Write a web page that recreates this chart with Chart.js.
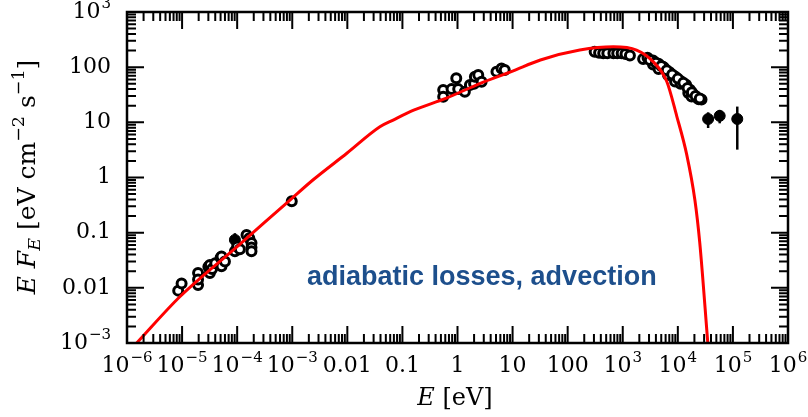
<!DOCTYPE html>
<html>
<head>
<meta charset="utf-8">
<script src="https://cdn.jsdelivr.net/npm/chart.js@4"></script>
<style>
  body { margin: 0; background: #fff; }
  canvas { display: block; }
</style>
</head>
<body>
<canvas id="sedChart" width="808" height="417"></canvas>
<script>
// model curve (red)
const curveE = [1.5e-6, 9.1e-6, 1e-4, 9.1e-4, 2.4e-3, 9.8e-3, 0.039, 0.068, 0.16, 0.63, 2.6, 10, 32, 166, 676, 1780, 3550, 6300, 9550, 1.45e4, 2.04e4, 2.5e4, 3.5e4];
const curveF = [1e-3, 6.9e-3, 0.056, 0.39, 0.91, 2.75, 8.3, 11, 16.6, 27.5, 51, 85, 135, 204, 234, 204, 126, 55, 13, 2.6, 0.39, 0.066, 1e-3];

// open circles (radio, IR, optical, X-ray)
const openE = [8.5e-6, 9.8e-6, 1.95e-5, 1.95e-5, 1.95e-5, 3.0e-5, 3.2e-5, 3.2e-5, 3.5e-5, 4.0e-5, 5.0e-5, 5.2e-5, 5.2e-5, 6.0e-5, 9.1e-5, 1.0e-4, 1.12e-4, 1.48e-4, 1.66e-4, 1.82e-4, 1.82e-4, 1.82e-4,
  9.8e-4,
  0.55, 0.55, 0.78, 0.95, 1.03, 1.36, 1.68, 2.0, 2.07, 2.38, 2.74, 5.1, 6.3, 7.2,
  309, 372, 442, 525, 676, 794, 955, 1122, 1349,
  2344, 2818, 3548, 4467, 5623, 7079, 8913, 11220, 14125, 16600, 19055, 22387, 26915,
  3548, 4467, 5370, 6607, 8913, 11220, 15488, 17783, 23988,
  3100, 4000, 5000, 6300, 7900, 10000, 12600, 15000, 18000, 21000, 25000];
const openF = [0.0089, 0.012, 0.0186, 0.0112, 0.0141, 0.024, 0.026, 0.0186, 0.022, 0.028, 0.035, 0.037, 0.0245, 0.030, 0.046, 0.056, 0.050, 0.091, 0.079, 0.065, 0.054, 0.046,
  0.37,
  38.6, 29.2, 40, 63, 40, 36, 47.6, 50, 67, 72, 54.6, 83, 95, 89,
  190, 182, 178, 178, 178, 178, 178, 174, 162,
  141, 148, 132, 115, 98, 81, 68, 56, 48, 39, 32, 28, 26,
  112, 93, 102, 72, 55, 50, 34, 29.5, 26.3,
  135, 120, 105, 88, 74, 62, 52, 42, 35, 30, 27];

// filled circles with error bars
const filledE = [9.1e-5, 35480, 57540, 1.2e5];
const filledF = [0.074, 11.5, 13.1, 11.5];
const errLo = [0.062, 7.9, 9.6, 3.2];
const errHi = [0.098, 15.2, 16.8, 19.3];

// axes
const xTicks = [1e-6, 1e-5, 1e-4, 1e-3, 0.01, 0.1, 1, 10, 100, 1e3, 1e4, 1e5, 1e6];
const xTickLabels = ['10^-6', '10^-5', '10^-4', '10^-3', '0.01', '0.1', '1', '10', '100', '10^3', '10^4', '10^5', '10^6'];
const yTicks = [1e-3, 0.01, 0.1, 1, 10, 100, 1e3];
const yTickLabels = ['10^-3', '0.01', '0.1', '1', '10', '100', '10^3'];

const SERIF = '"DejaVu Serif", serif';

function drawTickLabel(ctx, label, x, y, align) {
  const parts = label.split('^');
  ctx.font = '22px ' + SERIF;
  const wb = ctx.measureText(parts[0]).width;
  let we = 0, exp = '';
  if (parts.length > 1) {
    exp = parts[1].replace('-', '\u2212');
    ctx.font = '15px ' + SERIF;
    we = ctx.measureText(exp).width + 1;
  }
  const total = wb + we;
  let x0 = align === 'right' ? x - total : x - total / 2;
  ctx.textAlign = 'left';
  ctx.textBaseline = 'middle';
  ctx.font = '22px ' + SERIF;
  ctx.fillText(parts[0], x0, y);
  if (exp) {
    ctx.font = '15px ' + SERIF;
    ctx.fillText(exp, x0 + wb + 1, y - 8);
  }
}

function drawRich(ctx, parts, cx, cy, size) {
  let total = 0;
  parts.forEach(p => {
    const s = p.sub || p.sup ? size * 0.7 : size;
    ctx.font = (p.it ? 'italic ' : '') + s + 'px ' + SERIF;
    p.w = ctx.measureText(p.t).width;
    total += p.w;
  });
  let x = cx - total / 2;
  ctx.textAlign = 'left';
  ctx.textBaseline = 'middle';
  parts.forEach(p => {
    const s = p.sub || p.sup ? size * 0.7 : size;
    ctx.font = (p.it ? 'italic ' : '') + s + 'px ' + SERIF;
    const dy = p.sub ? size * 0.3 : p.sup ? -size * 0.35 : 0;
    ctx.fillText(p.t, x, cy + dy);
    x += p.w;
  });
}

const errorBars = {
  id: 'errorBars',
  afterDatasetsDraw(chart) {
    const { ctx, scales: { x, y } } = chart;
    ctx.save();
    ctx.strokeStyle = '#000';
    ctx.lineWidth = 2.5;
    filledE.forEach((e, i) => {
      const px = x.getPixelForValue(e);
      ctx.beginPath();
      ctx.moveTo(px, y.getPixelForValue(errLo[i]));
      ctx.lineTo(px, y.getPixelForValue(errHi[i]));
      ctx.stroke();
    });
    ctx.restore();
  }
};

const frameAndLabels = {
  id: 'frameAndLabels',
  afterDraw(chart) {
    const { ctx, chartArea: a, scales: { x, y } } = chart;
    ctx.save();
    ctx.strokeStyle = '#000';
    ctx.fillStyle = '#000';
    ctx.lineWidth = 2.5;
    ctx.strokeRect(a.left, a.top, a.right - a.left, a.bottom - a.top);

    ctx.lineWidth = 2;
    ctx.beginPath();
    for (let d = -6; d < 6; d++) {
      for (let m = 1; m < 10; m++) {
        const px = x.getPixelForValue(m * Math.pow(10, d));
        const len = m === 1 ? 17 : 9;
        ctx.moveTo(px, a.bottom); ctx.lineTo(px, a.bottom - len);
        ctx.moveTo(px, a.top); ctx.lineTo(px, a.top + len);
      }
    }
    for (let d = -3; d < 3; d++) {
      for (let m = 1; m < 10; m++) {
        const py = y.getPixelForValue(m * Math.pow(10, d));
        const len = m === 1 ? 17 : 9;
        ctx.moveTo(a.left, py); ctx.lineTo(a.left + len, py);
        ctx.moveTo(a.right, py); ctx.lineTo(a.right - len, py);
      }
    }
    ctx.stroke();

    xTicks.forEach((v, i) => drawTickLabel(ctx, xTickLabels[i], x.getPixelForValue(v), a.bottom + 23, 'center'));
    yTicks.forEach((v, i) => drawTickLabel(ctx, yTickLabels[i], a.left - 16, y.getPixelForValue(v), 'right'));

    // axis titles
    drawRich(ctx, [{ t: 'E', it: true }, { t: ' [eV]' }], 455, 399, 24);
    ctx.translate(28, 177);
    ctx.rotate(-Math.PI / 2);
    drawRich(ctx, [
      { t: 'E', it: true }, { t: ' ' }, { t: 'F', it: true }, { t: 'E', it: true, sub: true },
      { t: ' [eV cm' }, { t: '\u22122', sup: true }, { t: ' s' }, { t: '\u22121', sup: true }, { t: ']' }
    ], 0, 0, 25);
    ctx.restore();

    // annotation
    ctx.save();
    ctx.fillStyle = '#1d4f8c';
    ctx.font = 'bold 27px "Liberation Sans", Arial, sans-serif';
    ctx.textAlign = 'left';
    ctx.textBaseline = 'alphabetic';
    ctx.fillText('adiabatic losses, advection', 307, 285);
    ctx.restore();
  }
};

new Chart(document.getElementById('sedChart').getContext('2d'), {
  type: 'scatter',
  data: {
    datasets: [{
      type: 'line',
      data: curveE.map((e, i) => ({ x: e, y: curveF[i] })),
      borderColor: '#ff0000',
      borderWidth: 3,
      pointRadius: 0,
      cubicInterpolationMode: 'monotone',
      order: 0
    }, {
      data: openE.map((e, i) => ({ x: e, y: openF[i] })),
      backgroundColor: '#fff',
      borderColor: '#000',
      borderWidth: 3,
      pointRadius: 4.5,
      order: 1
    }, {
      data: filledE.map((e, i) => ({ x: e, y: filledF[i] })),
      backgroundColor: '#000',
      borderColor: '#000',
      borderWidth: 1,
      pointRadius: 5.5,
      order: 1
    }]
  },
  options: {
    responsive: false,
    animation: false,
    layout: { padding: { left: 127, right: 20, top: 12, bottom: 74 } },
    plugins: { legend: { display: false }, tooltip: { enabled: false } },
    scales: {
      x: { type: 'logarithmic', min: 1e-6, max: 1e6, display: false },
      y: { type: 'logarithmic', min: 1e-3, max: 1e3, display: false }
    }
  },
  plugins: [errorBars, frameAndLabels]
});
</script>
</body>
</html>
